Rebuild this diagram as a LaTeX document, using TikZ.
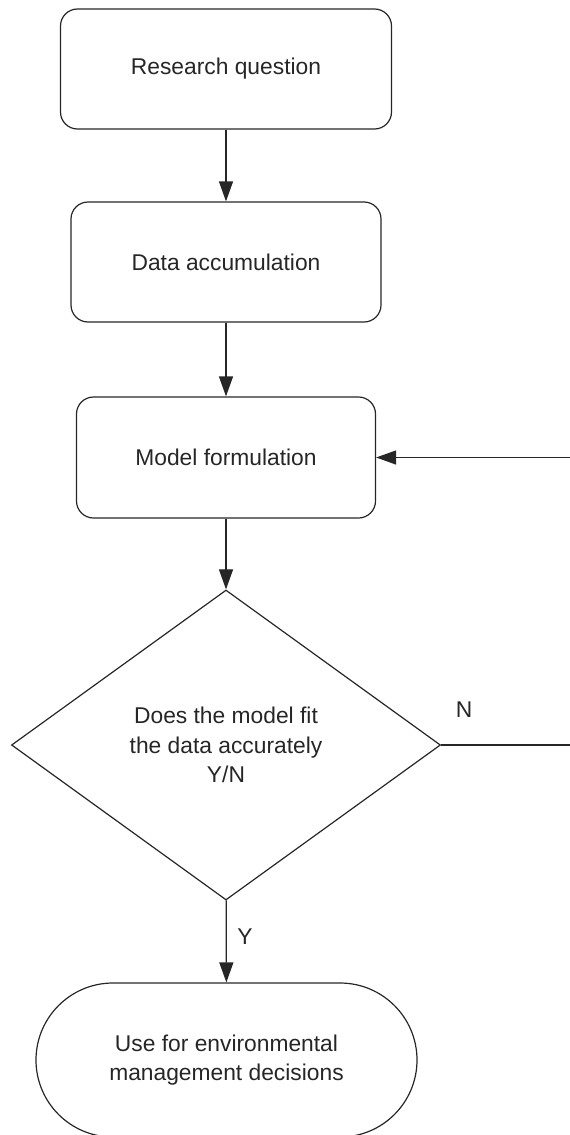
\documentclass[tikz,border=0pt]{standalone}
\usepackage{fontspec}
\setmainfont{Liberation Sans}
\usetikzlibrary{shapes.geometric,shapes.misc,arrows.meta}
\begin{document}
\begin{tikzpicture}[x=1pt, y=-1pt, line width=1.2pt, color=black!85,
  every node/.style={font=\fontsize{22.8}{29.5}\selectfont},
  stepbox/.style={draw, rounded corners=17pt, minimum height=120pt, inner sep=0pt},
  flow/.style={-{Triangle[length=20pt,width=14pt]}}]
  \useasboundingbox (0,0) rectangle (570,1135);
  \node[stepbox, minimum width=331pt] (question) at (226,69) {Research question};
  \node[stepbox, minimum width=310pt] (data) at (226,262) {Data accumulation};
  \node[stepbox, minimum width=299pt, minimum height=121pt] (model) at (226,457.5) {Model formulation};
  \node[draw, diamond, minimum width=429pt, minimum height=310pt, inner sep=0pt, align=center] (fit) at (226,745) {Does the model fit\\the data accurately\\Y/N};
  \node[draw, rounded rectangle, minimum width=381pt, minimum height=154pt, inner sep=0pt, align=center] (use) at (226.5,1060) {Use for environmental\\management decisions};
  \draw[flow] (question) -- (data);
  \draw[flow] (data) -- (model);
  \draw[flow] (model) -- (fit);
  \draw[flow] (fit) -- (use);
  % way back when the fit is poor
  \coordinate (fitright) at (572,745);
  \coordinate (modelright) at (572,457.5);
  \draw[flow] (fit.east) -- (fitright) -- (modelright) -- (model.east);
  \node (no) at (464,710) {N};
  \node (yes) at (245,937) {Y};
\end{tikzpicture}
\end{document}
